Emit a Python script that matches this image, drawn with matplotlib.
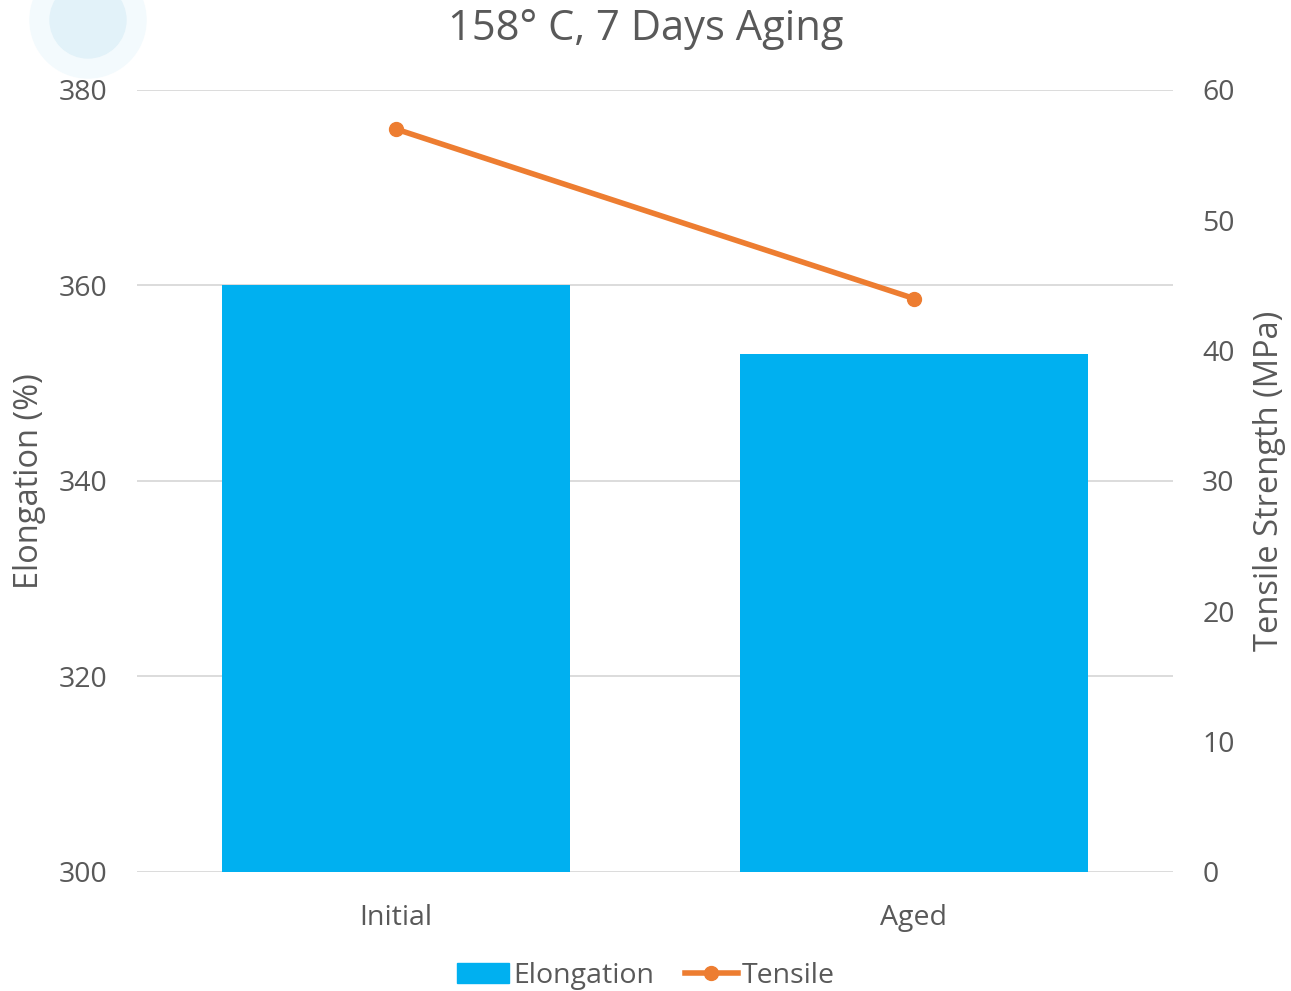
import matplotlib.pyplot as plt
from matplotlib.lines import Line2D
from matplotlib.patches import Patch, Circle

categories = ['Initial', 'Aged']
elongation = [360, 353]
tensile = [57, 44]

text_color = '#595959'
plt.rcParams['font.family'] = ['Open Sans', 'DejaVu Sans']

fig = plt.figure(figsize=(12.91, 9.91), dpi=100)

# faint decoration in the top-left corner
fig.patches.append(Circle((88, 971), 58, transform=None, color='#f3fafd', zorder=0))
fig.patches.append(Circle((88, 971), 38, transform=None, color='#e2f2f9', zorder=0))

ax = fig.add_axes([0.1061, 0.1201, 0.8025, 0.7891])
ax.patch.set_alpha(0)
ax2 = ax.twinx()

x = range(len(categories))
ax.bar(x, elongation, width=0.672, color='#00b0f0', zorder=2)
ax.set_ylim(300, 380)
ax.set_yticks(range(300, 381, 20))
ax.set_xlim(-0.5, 1.5)
ax.set_xticks(list(x))
ax.set_xticklabels(categories)
ax.grid(axis='y', color='#d9d9d9', linewidth=1.3, zorder=0)
ax.set_axisbelow(True)

ax2.plot(x, tensile, color='#ed7d31', linewidth=4, marker='o', markersize=10, zorder=3)
ax2.set_ylim(0, 60)
ax2.set_yticks(range(0, 61, 10))

for a in (ax, ax2):
    for s in a.spines.values():
        s.set_visible(False)
    a.tick_params(length=0, labelsize=20.5, colors=text_color)
ax.tick_params(axis='y', pad=21)
ax.tick_params(axis='x', pad=23)
ax2.tick_params(axis='y', pad=21)

ax.set_ylabel('Elongation (%)', fontsize=23.5, color=text_color, va='center')
ax.yaxis.set_label_coords(-0.1033, 0.5)
ax2.set_ylabel('Tensile Strength (MPa)', fontsize=23.5, color=text_color, va='center')
ax2.yaxis.set_label_coords(1.0936, 0.5)
fig.text(0.5, 0.971, '158° C, 7 Days Aging', ha='center', va='center', fontsize=30, color=text_color)

handles = [Patch(color='#00b0f0'),
           Line2D([0], [0], color='#ed7d31', linewidth=4, marker='o', markersize=10)]
fig.legend(handles, ['Elongation', 'Tensile'], loc='center', bbox_to_anchor=(0.5, 0.015),
           ncol=2, frameon=False, fontsize=20.5, labelcolor=text_color,
           handlelength=1.85, handletextpad=0.12, columnspacing=1.1)

fig.savefig('out.png', dpi=100)
